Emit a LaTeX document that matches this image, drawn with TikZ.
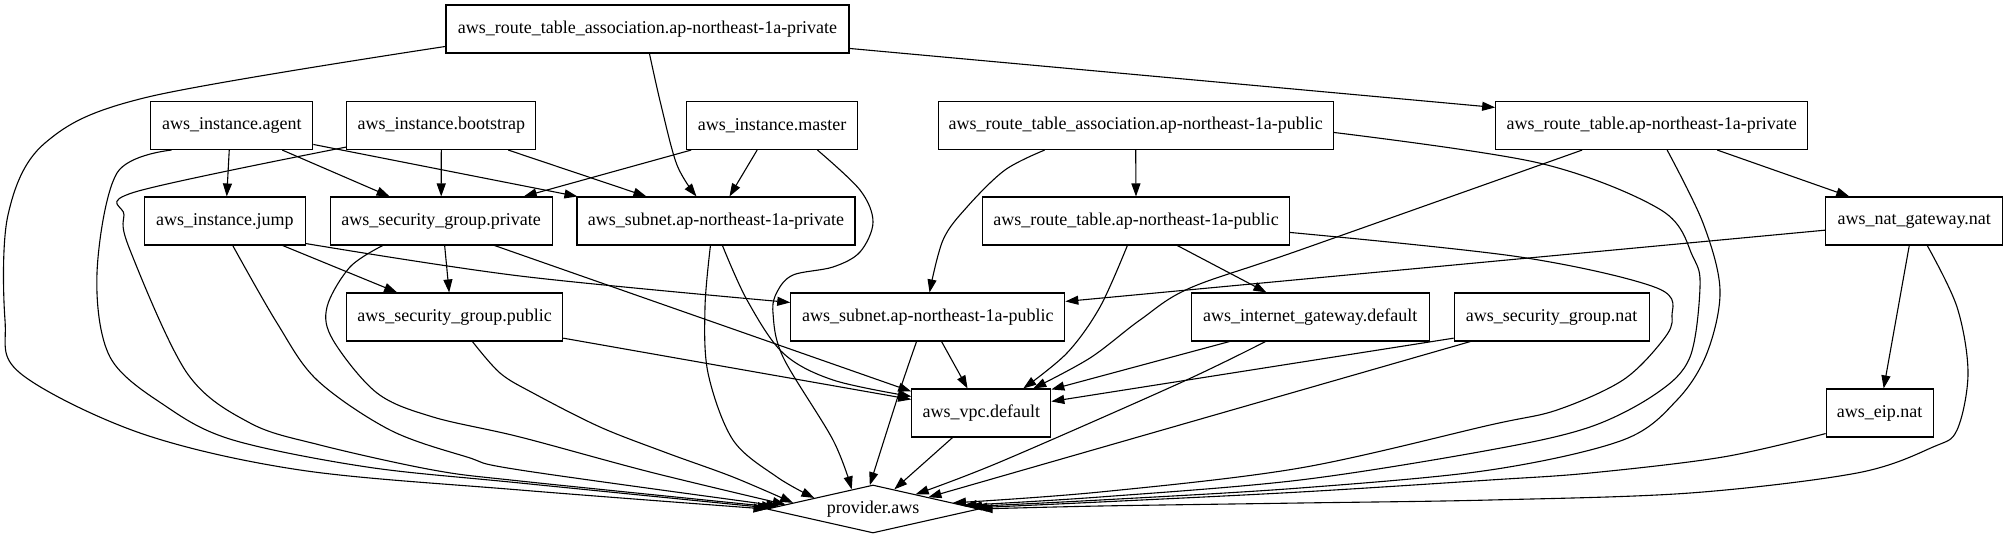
\documentclass[tikz,border=0pt]{standalone}
\usepackage{fontspec}
\setmainfont{Liberation Serif}
\usetikzlibrary{arrows.meta,shapes.geometric,calc}
\begin{document}
\begin{tikzpicture}[x=1pt,y=-1pt,
  box/.style={draw,rectangle,minimum height=48pt,inner sep=0pt,line width=1.1pt,font=\fontsize{18}{21.6}\selectfont},
  edge/.style={draw,line width=1.1pt,-{Triangle[length=13pt,width=9pt]}},
  sm/.style={smooth,tension=0.55}]
\useasboundingbox (0,0) rectangle (2008,539);
% nodes
\node[box,minimum width=403pt] (rtaprv) at (647.5,29) {aws\_route\_table\_association.ap-northeast-1a-private};
\node[box,minimum width=162pt] (agent) at (231.8,125.5) {aws\_instance.agent};
\node[box,minimum width=189pt] (boot) at (441.3,125.5) {aws\_instance.bootstrap};
\node[box,minimum width=171pt] (master) at (772.2,125.5) {aws\_instance.master};
\node[box,minimum width=395pt] (rtapub) at (1135.7,125.5) {aws\_route\_table\_association.ap-northeast-1a-public};
\node[box,minimum width=312pt] (rtprv) at (1651.7,125.5) {aws\_route\_table.ap-northeast-1a-private};
\node[box,minimum width=161pt] (jump) at (224.8,221) {aws\_instance.jump};
\node[box,minimum width=222pt] (sgprv) at (441.2,221) {aws\_security\_group.private};
\node[box,minimum width=278pt] (subprv) at (716,221) {aws\_subnet.ap-northeast-1a-private};
\node[box,minimum width=307pt] (rtpub) at (1136,221) {aws\_route\_table.ap-northeast-1a-public};
\node[box,minimum width=177pt] (nat) at (1914.3,221) {aws\_nat\_gateway.nat};
\node[box,minimum width=216pt] (sgpub) at (454.7,317) {aws\_security\_group.public};
\node[box,minimum width=274pt] (subpub) at (927.8,317) {aws\_subnet.ap-northeast-1a-public};
\node[box,minimum width=238pt] (igw) at (1310.3,317) {aws\_internet\_gateway.default};
\node[box,minimum width=195pt] (sgnat) at (1551.7,317) {aws\_security\_group.nat};
\node[box,minimum width=139pt] (vpc) at (981.3,413) {aws\_vpc.default};
\node[box,minimum width=107pt] (eip) at (1879.7,413) {aws\_eip.nat};
\node[draw,diamond,aspect=4.4,minimum width=212pt,minimum height=48pt,inner sep=0pt,line width=1.1pt,font=\fontsize{18}{21.6}\selectfont] (provider) at (873,509) {provider.aws};

% straight edges
\draw[edge] ($(rtaprv.north east)+(0,44)$) -- ($(rtprv.north west)+(0,6.5)$);
\draw[edge] ($(agent.south west)+(79,0)$) -- ($(jump.north west)+(83,0)$);
\draw[edge] ($(agent.south west)+(132,0)$) -- ($(sgprv.north west)+(60,0)$);
\draw[edge] ($(agent.north east)+(0,43.5)$) -- ($(subprv.north west)+(1,0)$);
\draw[edge] (boot.south) -- (sgprv.north);
\draw[edge] ($(boot.south west)+(162,0)$) -- ($(subprv.north west)+(70,0)$);
\draw[edge] ($(master.south west)+(5,0)$) -- ($(sgprv.north east)+(-29,0)$);
\draw[edge] ($(master.south west)+(71,0)$) -- ($(subprv.north west)+(153,0)$);
\draw[edge] (rtapub.south) -- (rtpub.north);
\draw[edge] ($(rtprv.south east)+(-91,0)$) -- ($(nat.north west)+(24,0)$);
\draw[edge] ($(jump.south west)+(139,0)$) -- ($(sgpub.north west)+(51,0)$);
\draw[edge] ($(sgprv.south west)+(115,0)$) -- ($(sgpub.north west)+(103,0)$);
\draw[edge] ($(sgprv.south west)+(165,0)$) -- ($(vpc.north west)+(0,3)$);
\draw[edge] ($(sgpub.north east)+(0,45.7)$) -- ($(vpc.north west)+(0,11)$);
\draw[edge] ($(subpub.south west)+(151.3,0)$) -- ($(vpc.north west)+(56.3,0)$);
\draw[edge] ($(rtpub.south west)+(195.4,0)$) -- ($(igw.north west)+(75.7,0)$);
\draw[edge] ($(igw.south west)+(38.7,0)$) -- ($(vpc.north east)+(0,1)$);
\draw[edge] ($(sgnat.north west)+(0,45.7)$) -- ($(vpc.north east)+(0,13)$);
\draw[edge] ($(sgnat.south west)+(16.7,0)$) -- ($(provider.north)!0.52!(provider.east)$);
\draw[edge] ($(nat.north west)+(0,33.7)$) -- ($(subpub.north east)+(0,9)$);
\draw[edge] ($(nat.south west)+(84,0)$) -- ($(eip.north west)+(58,0)$);
\draw[edge] ($(vpc.south west)+(41.3,0)$) -- ($(provider.north)!0.2!(provider.east)$);

% curved edges
\draw[edge] plot[sm] coordinates {($(igw.south west)+(74.7,0)$) (1180,383) (1000,462) ($(provider.north)!0.4!(provider.east)$)};
\draw[edge] plot[sm] coordinates {($(rtaprv.north west)+(0,42)$) (148,97) (45,143) (8,215) (5,320) (20,373) (140,433) (300,470) (520,490) (provider.west)};
\draw[edge] plot[sm] coordinates {($(rtaprv.south west)+(204,0)$) (661,105) (677,165) ($(subprv.north west)+(120,0)$)};
\draw[edge] plot[sm] coordinates {($(agent.south west)+(21.3,0)$) (117,173) (97,273) (110,357) (167,407) (233,440) (367,467) (520,483) ($(provider.west)!0.04!(provider.north)$)};
\draw[edge] plot[sm] coordinates {($(boot.south west)+(0,-3)$) (135,192) (124,215) (130,250) (187,373) (250,423) (320,445) (433,470) (520,481) ($(provider.west)!0.08!(provider.north)$)};
\draw[edge] plot[sm] coordinates {($(master.south west)+(131.3,0)$) (860,190) (873,222) (860,252) (833,267) (793,275) (777,292) (773,313) (783,357) (833,440) ($(provider.west)!0.8!(provider.north)$)};
\draw[edge] plot[sm] coordinates {($(rtapub.south west)+(107,0)$) (1005,170) (967,207) (943,240) ($(subpub.north west)+(139.3,0)$)};
\draw[edge] plot[sm] coordinates {($(rtapub.north east)+(0,31.5)$) (1539,163) (1661,210) (1693,257) (1700,287) (1690,357) (1657,393) (1590,427) (1490,450) (1300,480) (1100,497) ($(provider.north)!0.85!(provider.east)$)};
\draw[edge] plot[sm] coordinates {($(rtprv.south west)+(87,0)$) (1300,250) (1190,288) (1140,320) (1090,358) ($(vpc.north west)+(122,0)$)};
\draw[edge] plot[sm] coordinates {($(rtprv.south west)+(172,0)$) (1703,223) (1720,290) (1707,353) (1677,400) (1623,440) (1490,470) (1300,488) (1100,500) ($(provider.north)!0.9!(provider.east)$)};
\draw[edge] plot[sm] coordinates {($(jump.south east)+(0,-2)$) (520,276) ($(subpub.north west)+(0,10)$)};
\draw[edge] plot[sm] coordinates {($(jump.south west)+(89,0)$) (277,323) (317,380) (390,430) (467,457) (520,470) ($(provider.west)!0.12!(provider.north)$)};
\draw[edge] plot[sm] coordinates {($(sgprv.south west)+(53,0)$) (350,267) (327,307) (333,340) (377,393) (433,417) (520,437) (650,472) ($(provider.west)!0.18!(provider.north)$)};
\draw[edge] plot[sm] coordinates {($(subprv.south west)+(134,0)$) (705,307) (708,373) (733,440) (777,477) ($(provider.west)!0.45!(provider.north)$)};
\draw[edge] plot[sm] coordinates {($(subprv.south west)+(146,0)$) (747,300) (783,353) (833,380) ($(vpc.north west)+(0,8)$)};
\draw[edge] plot[sm] coordinates {($(sgpub.south west)+(126.3,0)$) (500,373) (533,393) (600,427) (667,453) (733,477) ($(provider.west)!0.25!(provider.north)$)};
\draw[edge] plot[sm] coordinates {($(subpub.south west)+(126.3,0)$) (900,390) ($(provider.west)!0.97!(provider.north)$)};
\draw[edge] plot[sm] coordinates {($(rtpub.south west)+(145.4,0)$) (1100,307) (1067,353) ($(vpc.north west)+(112,0)$)};
\draw[edge] plot[sm] coordinates {($(rtpub.north east)+(0,36)$) (1520,257) (1657,288) (1672,317) (1663,340) (1623,380) (1557,410) (1490,425) (1300,468) (1100,492) ($(provider.north)!0.75!(provider.east)$)};
\draw[edge] plot[sm] coordinates {($(nat.south west)+(102,0)$) (1957,307) (1968,373) (1957,430) (1933,447) (1857,473) (1690,493) (1490,500) (1300,503) (1100,506) (provider.east)};
\draw[edge] plot[sm] coordinates {($(eip.south west)+(0,-4)$) (1723,457) (1590,473) (1490,480) (1300,492) (1100,502) ($(provider.north)!0.95!(provider.east)$)};
\end{tikzpicture}
\end{document}
